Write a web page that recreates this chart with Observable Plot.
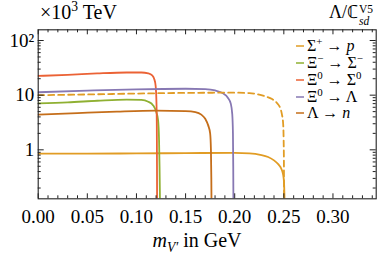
<!DOCTYPE html>
<html><head><meta charset="utf-8">
<script src="https://cdn.jsdelivr.net/npm/d3@7"></script>
<script src="https://cdn.jsdelivr.net/npm/@observablehq/plot@0.6"></script>
<style>body{margin:0;background:#fff} svg{display:block}</style>
</head><body><div id="chart"></div>
<script>
// Series data (x in GeV, y in 10^3 TeV)
const seriesNames = ["Σ+ → p", "Ξ− → Σ−", "Ξ0 → Σ0", "Ξ0 → Λ", "Λ → n"];
const seriesColors = ["#E19C24", "#8FB032", "#EB6235", "#8778B3", "#C56E1A"];

const sigmaP_x = [0, 0.05, 0.10, 0.15, 0.20, 0.215, 0.226, 0.234, 0.240, 0.2445, 0.2467, 0.2485, 0.2494, 0.2502, 0.2506, 0.2508];
const sigmaP_y = [0.85, 0.85, 0.86, 0.87, 0.88, 0.86, 0.81, 0.74, 0.64, 0.54, 0.48, 0.40, 0.34, 0.25, 0.15, 0.10];

const sigmaPdash_x = [0, 0.05, 0.10, 0.15, 0.20, 0.215, 0.226, 0.232, 0.238, 0.243, 0.246, 0.248, 0.2493, 0.2498, 0.2501, 0.2502];
const sigmaPdash_y = [10.0, 10.3, 10.7, 11.0, 11.1, 10.9, 10.1, 9.4, 8.5, 7.2, 6.0, 4.5, 3.0, 1.5, 0.5, 0.1];

const xiMinus_x = [0, 0.03, 0.06, 0.09, 0.105, 0.112, 0.117, 0.120, 0.122, 0.123, 0.1235, 0.1240];
const xiMinus_y = [7.1, 7.4, 7.9, 8.3, 8.2, 7.6, 6.5, 5.0, 3.5, 1.5, 0.5, 0.1];

const xiSigma_x = [0, 0.03, 0.06, 0.09, 0.105, 0.112, 0.116, 0.118, 0.1195, 0.1203, 0.1207, 0.1209, 0.1210];
const xiSigma_y = [22.5, 23.5, 25.0, 26.0, 26.0, 25.0, 23.0, 20.0, 15.0, 8.0, 3.0, 0.5, 0.1];

const xiLambda_x = [0, 0.05, 0.10, 0.15, 0.17, 0.18, 0.188, 0.193, 0.196, 0.1975, 0.1982, 0.1985, 0.1987];
const xiLambda_y = [11.3, 12.1, 12.8, 13.1, 12.9, 12.2, 10.8, 9.0, 7.0, 4.5, 2.0, 0.5, 0.1];

const lambdaN_x = [0, 0.04, 0.08, 0.12, 0.15, 0.16, 0.166, 0.170, 0.173, 0.175, 0.1758, 0.1762, 0.1764];
const lambdaN_y = [4.4, 4.7, 5.0, 5.2, 5.1, 4.9, 4.4, 3.7, 2.8, 2.0, 1.0, 0.3, 0.1];

// Axis ticks
const xTickValues = [0, 0.05, 0.10, 0.15, 0.20, 0.25, 0.30];
const xTickLabels = ["0.00", "0.05", "0.10", "0.15", "0.20", "0.25", "0.30"];
const xMinorTicks = [0.01,0.02,0.03,0.04,0.06,0.07,0.08,0.09,0.11,0.12,0.13,0.14,0.16,0.17,0.18,0.19,0.21,0.22,0.23,0.24,0.26,0.27,0.28,0.29,0.31,0.32,0.33,0.34];
const yTickValues = [1, 10, 100];
const yTickLabels = ["1", "10", "10²"];
const yMinorTicks = [0.2,0.3,0.4,0.5,0.6,0.7,0.8,0.9,2,3,4,5,6,7,8,9,20,30,40,50,60,70,80,90];

function toRows(name, xs, ys, dashed) {
  return xs.map((x, i) => ({series: name, x, y: ys[i], dashed}));
}
const solidRows = [
  ...toRows(seriesNames[0], sigmaP_x, sigmaP_y, false),
  ...toRows(seriesNames[1], xiMinus_x, xiMinus_y, false),
  ...toRows(seriesNames[2], xiSigma_x, xiSigma_y, false),
  ...toRows(seriesNames[3], xiLambda_x, xiLambda_y, false),
  ...toRows(seriesNames[4], lambdaN_x, lambdaN_y, false)
];
const dashedRows = toRows(seriesNames[0], sigmaPdash_x, sigmaPdash_y, true);

const W = 390, H = 257, mL = 37.7, mR = 14.3, mT = 29.3, mB = 58.7;
const innerW = W - mL - mR, innerH = H - mT - mB;
const font = "Liberation Serif, serif";

const plot = Plot.plot({
  width: W, height: H,
  marginLeft: mL, marginRight: mR, marginTop: mT, marginBottom: mB,
  style: {fontFamily: font, fontSize: "19px", background: "#fff", color: "#000"},
  x: {domain: [0, 0.344]},
  y: {type: "log", domain: [0.127, 157]},
  color: {domain: seriesNames, range: seriesColors},
  marks: [
    Plot.line(solidRows, {x: "x", y: "y", z: "series", stroke: "series", strokeWidth: 1.8, curve: "monotone-x", clip: true}),
    Plot.line(dashedRows, {x: "x", y: "y", stroke: "series", strokeWidth: 1.8, strokeDasharray: "6,4", curve: "monotone-x", clip: true}),
    Plot.tickX(xTickValues, {x: d => d, insetTop: innerH - 5, stroke: "#222"}),
    Plot.tickX(xMinorTicks, {x: d => d, insetTop: innerH - 3, stroke: "#222"}),
    Plot.tickX(xTickValues, {x: d => d, insetBottom: innerH - 5, stroke: "#222"}),
    Plot.tickX(xMinorTicks, {x: d => d, insetBottom: innerH - 3, stroke: "#222"}),
    Plot.tickY(yTickValues, {y: d => d, insetRight: innerW - 6, stroke: "#222"}),
    Plot.tickY(yMinorTicks, {y: d => d, insetRight: innerW - 3, stroke: "#222"}),
    Plot.tickY(yTickValues, {y: d => d, insetLeft: innerW - 6, stroke: "#222"}),
    Plot.tickY(yMinorTicks, {y: d => d, insetLeft: innerW - 3, stroke: "#222"}),
    Plot.axisX({ticks: xTickValues, tickFormat: d => xTickLabels[xTickValues.indexOf(d)], tickSize: 0, tickPadding: 11, label: null, fontSize: 19}),
    Plot.axisY({ticks: yTickValues, tickFormat: d => yTickLabels[yTickValues.indexOf(d)], tickSize: 0, tickPadding: 4, label: null, fontSize: 19}),
    Plot.frame({stroke: "#222", strokeWidth: 1.1})
  ]
});
document.getElementById("chart").appendChild(plot);

const svg = d3.select(plot);
function rich(g, x, y, parts, size, anchor) {
  const t = g.append("text").attr("x", x).attr("y", y)
    .style("font-family", font).style("font-size", size + "px").attr("fill", "#000")
    .attr("text-anchor", anchor || "start");
  let shift = 0;
  for (const [s, kind] of parts) {
    const sp = t.append("tspan").text(s);
    let target = 0, fs = size;
    if (kind === "sup" || kind === "supi") { target = -size * 0.4; fs = size * 0.68; }
    if (kind === "sub" || kind === "subi") { target = size * 0.25; fs = size * 0.68; }
    sp.attr("dy", target - shift).style("font-size", fs + "px");
    shift = target;
    if (kind === "i" || kind === "supi" || kind === "subi") sp.style("font-style", "italic");
  }
  return t;
}
// Titles
rich(svg, 40, 19, [["×10", ""], ["3", "sup"], [" TeV", ""]], 20);
rich(svg, 358, 18, [["Λ/ℂ", ""]], 18, "end");
rich(svg, 359, 12.5, [["V5", ""]], 11.5);
rich(svg, 359, 24.5, [["sd", "i"]], 11.5);
// x-axis label
rich(svg, 197, 247, [["m", "i"], ["V′", "subi"], [" in GeV", ""]], 20, "middle");

// Legend
const legendParts = [
  [["Σ", ""], ["+", "sup"], [" → ", ""], ["p", "i"]],
  [["Ξ", ""], ["−", "sup"], [" → Σ", ""], ["−", "sup"]],
  [["Ξ", ""], ["0", "sup"], [" → Σ", ""], ["0", "sup"]],
  [["Ξ", ""], ["0", "sup"], [" → Λ", ""]],
  [["Λ → ", ""], ["n", "i"]]
];
const legendY = [46, 63, 80, 97, 113];
legendParts.forEach((parts, i) => {
  svg.append("line").attr("x1", 296).attr("x2", 304).attr("y1", legendY[i]).attr("y2", legendY[i])
    .attr("stroke", seriesColors[i]).attr("stroke-width", 1.5);
  rich(svg, 307, legendY[i] + 5, parts, 16);
});
</script>
</body></html>
